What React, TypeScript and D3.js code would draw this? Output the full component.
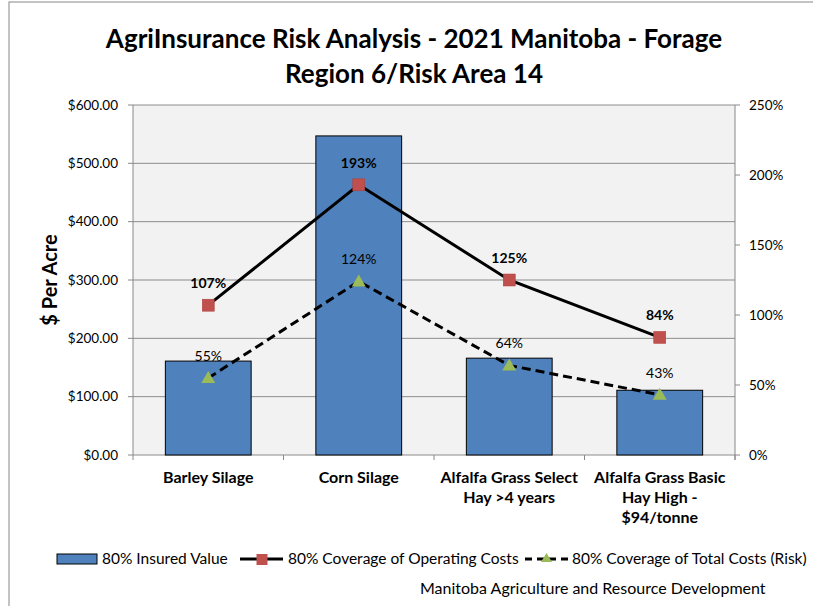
import { scaleBand, scaleLinear, line } from "d3";

const categories = [
  ["Barley Silage"],
  ["Corn Silage"],
  ["Alfalfa Grass Select", "Hay >4 years"],
  ["Alfalfa Grass Basic", "Hay High -", "$94/tonne"],
];
const insuredValue = [161, 547, 166, 111];
const operatingPct = [107, 193, 125, 84];
const totalPct = [55, 124, 64, 43];
const leftTicks = [0, 100, 200, 300, 400, 500, 600];
const rightTicks = [0, 50, 100, 150, 200, 250];

const W = 813;
const H = 606;
const plot = { left: 133, right: 735, top: 105, bottom: 455 };
const font = "Lato, 'Open Sans', sans-serif";

const App = () => {
  const x = scaleBand<number>()
    .domain(categories.map((c, i) => i))
    .range([plot.left, plot.right])
    .padding(0);
  const y = scaleLinear().domain([0, 600]).range([plot.bottom, plot.top]);
  const y2 = scaleLinear().domain([0, 250]).range([plot.bottom, plot.top]);
  const barW = x.bandwidth() * 0.57;
  const cx = (i: number) => x(i)! + x.bandwidth() / 2;

  const pctLine = line<number>()
    .x((v, i) => cx(i))
    .y((v) => y2(v));

  return (
    <svg
      width={W}
      height={H}
      style={{ position: "absolute", left: 0, top: 0, background: "#fff" }}
      fontFamily={font}
    >
      <rect x={9} y={2} width={W + 10} height={H + 10} fill="#fff" stroke="#888" />
      <text textAnchor="middle" fontWeight="bold" fontSize={26} fill="#000">
        <tspan x={414} y={48}>AgriInsurance Risk Analysis - 2021 Manitoba - Forage</tspan>
        <tspan x={414} y={83}>Region 6/Risk Area 14</tspan>
      </text>

      <rect
        x={plot.left}
        y={plot.top}
        width={plot.right - plot.left}
        height={plot.bottom - plot.top}
        fill="#f2f2f2"
      />
      {leftTicks.map((t) => (
        <g key={t}>
          <line
            x1={plot.left}
            x2={plot.right}
            y1={y(t)}
            y2={y(t)}
            stroke="#8c8c8c"
          />
          <line x1={plot.left - 5} x2={plot.left} y1={y(t)} y2={y(t)} stroke="#888" />
          <text
            x={118}
            y={y(t)}
            dy="0.35em"
            textAnchor="end"
            fontSize={13.5}
            fill="#000"
          >
            {"$" + t.toFixed(2)}
          </text>
        </g>
      ))}
      {rightTicks.map((t) => (
        <g key={t}>
          <line x1={plot.right} x2={plot.right + 5} y1={y2(t)} y2={y2(t)} stroke="#888" />
          <text x={749} y={y2(t)} dy="0.35em" fontSize={13.5} fill="#000">
            {t + "%"}
          </text>
        </g>
      ))}
      <line x1={plot.left} x2={plot.left} y1={plot.top} y2={plot.bottom + 5} stroke="#888" />
      <line x1={plot.right} x2={plot.right} y1={plot.top} y2={plot.bottom + 5} stroke="#888" />
      {categories.map((c, i) => (
        <line
          key={i}
          x1={x(i)! + x.bandwidth()}
          x2={x(i)! + x.bandwidth()}
          y1={plot.bottom}
          y2={plot.bottom + 5}
          stroke="#888"
        />
      ))}

      <text
        transform={`translate(57,${(plot.top + plot.bottom) / 2}) rotate(-90)`}
        textAnchor="middle"
        fontWeight="bold"
        fontSize={20}
        fill="#000"
      >
        $ Per Acre
      </text>

      {insuredValue.map((v, i) => (
        <rect
          key={i}
          x={cx(i) - barW / 2}
          y={y(v)}
          width={barW}
          height={plot.bottom - y(v)}
          fill="#4f81bd"
          stroke="#000"
          strokeWidth={1}
        />
      ))}

      <path d={pctLine(totalPct)!} fill="none" stroke="#000" strokeWidth={3} strokeDasharray="9,5" />
      <path d={pctLine(operatingPct)!} fill="none" stroke="#000" strokeWidth={3} />

      {operatingPct.map((v, i) => (
        <g key={i}>
          <rect x={cx(i) - 6} y={y2(v) - 6} width={12} height={12} fill="#c0504d" stroke="#b03c3a" strokeWidth={0.5} />
          <text x={cx(i)} y={y2(v) - 17} textAnchor="middle" fontWeight="bold" fontSize={14} fill="#000">
            {v + "%"}
          </text>
        </g>
      ))}
      {totalPct.map((v, i) => (
        <g key={i}>
          <path
            d={`M${cx(i)},${y2(v) - 7}L${cx(i) + 7},${y2(v) + 5}L${cx(i) - 7},${y2(v) + 5}Z`}
            fill="#9bbb59"
          />
          <text x={cx(i)} y={y2(v) - 17} textAnchor="middle" fontSize={14} fill="#000">
            {v + "%"}
          </text>
        </g>
      ))}

      {categories.map((c, i) => (
        <text key={i} textAnchor="middle" fontWeight="bold" fontSize={16} fill="#000">
          {c.map((s, j) => (
            <tspan key={j} x={cx(i)} y={483 + j * 20}>
              {s}
            </tspan>
          ))}
        </text>
      ))}

      <g fontSize={15.5} fill="#000">
        <rect x={57} y={554} width={40} height={10} fill="#4f81bd" stroke="#000" />
        <text x={102} y={564}>80% Insured Value</text>
        <line x1={240} x2={283} y1={559} y2={559} stroke="#000" strokeWidth={3} />
        <rect x={256.5} y={554} width={11} height={11} fill="#c0504d" />
        <text x={288} y={564}>80% Coverage of Operating Costs</text>
        <line x1={525} x2={568} y1={559} y2={559} stroke="#000" strokeWidth={3} strokeDasharray="7,5" />
        <path d="M546.5,553L552,562L541,562Z" fill="#9bbb59" />
        <text x={572} y={564}>80% Coverage of Total Costs (Risk)</text>
        <text x={420} y={594} fontSize={16}>Manitoba Agriculture and Resource Development</text>
      </g>
    </svg>
  );
};

export default App;
